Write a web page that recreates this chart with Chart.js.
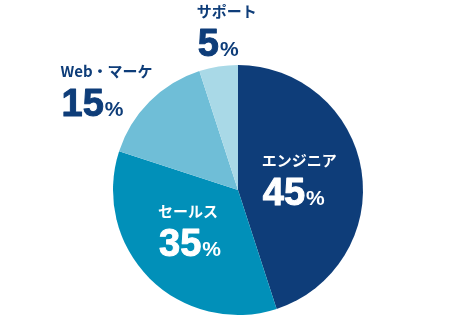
<!DOCTYPE html>
<html><head><meta charset="utf-8">
<script src="https://cdn.jsdelivr.net/npm/chart.js@4"></script>
<style>html,body{margin:0;padding:0;background:#fff}#wrap{width:462px;height:330px}</style>
</head><body><div id="wrap"><canvas id="c" width="462" height="330"></canvas></div>
<script>
const categories = ["エンジニア", "セールス", "Web・マーケ", "サポート"];
const shares = [45, 35, 15, 5];
const colors = ["#0e3d79", "#0190b9", "#6fbed7", "#a9d9e7"];
const labelColors = ["#ffffff", "#ffffff", "#0e3d79", "#0e3d79"];
// label anchor (left x, label-line centre y) relative to pie centre, in radius units
const labelAnchors = [[0.19, -0.24], [-0.64, 0.17], [-1.42, -0.95], [-0.33, -1.43]];

const labelPlugin = {
  id: 'sliceLabels',
  afterDatasetsDraw(chart) {
    const ctx = chart.ctx;
    const meta = chart.getDatasetMeta(0);
    meta.data.forEach((arc, i) => {
      const r = arc.outerRadius;
      const x = arc.x + labelAnchors[i][0] * r;
      const y = arc.y + labelAnchors[i][1] * r;
      ctx.save();
      ctx.fillStyle = labelColors[i];
      ctx.strokeStyle = labelColors[i];
      ctx.textAlign = 'left';
      ctx.textBaseline = 'middle';
      ctx.font = 'bold 15px "Noto Sans CJK JP", sans-serif';
      ctx.fillText(categories[i], x, y);
      ctx.textBaseline = 'alphabetic';
      ctx.font = 'bold 38px "Liberation Sans", Arial, sans-serif';
      ctx.lineWidth = 1;
      ctx.lineJoin = 'round';
      const num = String(chart.data.datasets[0].data[i]);
      const base = y + 45;
      ctx.fillText(num, x + 1, base);
      ctx.strokeText(num, x + 1, base);
      const w = ctx.measureText(num).width;
      ctx.font = 'bold 21px "Liberation Sans", Arial, sans-serif';
      ctx.fillText('%', x + 2 + w, base);
      ctx.restore();
    });
  }
};

new Chart(document.getElementById('c'), {
  type: 'pie',
  data: {
    labels: categories,
    datasets: [{ data: shares, backgroundColor: colors, borderWidth: 0 }]
  },
  options: {
    responsive: false,
    animation: false,
    layout: { padding: { left: 14, right: 0, top: 65, bottom: 15 } },
    plugins: { legend: { display: false }, tooltip: { enabled: false } }
  },
  plugins: [labelPlugin]
});
</script></body></html>
